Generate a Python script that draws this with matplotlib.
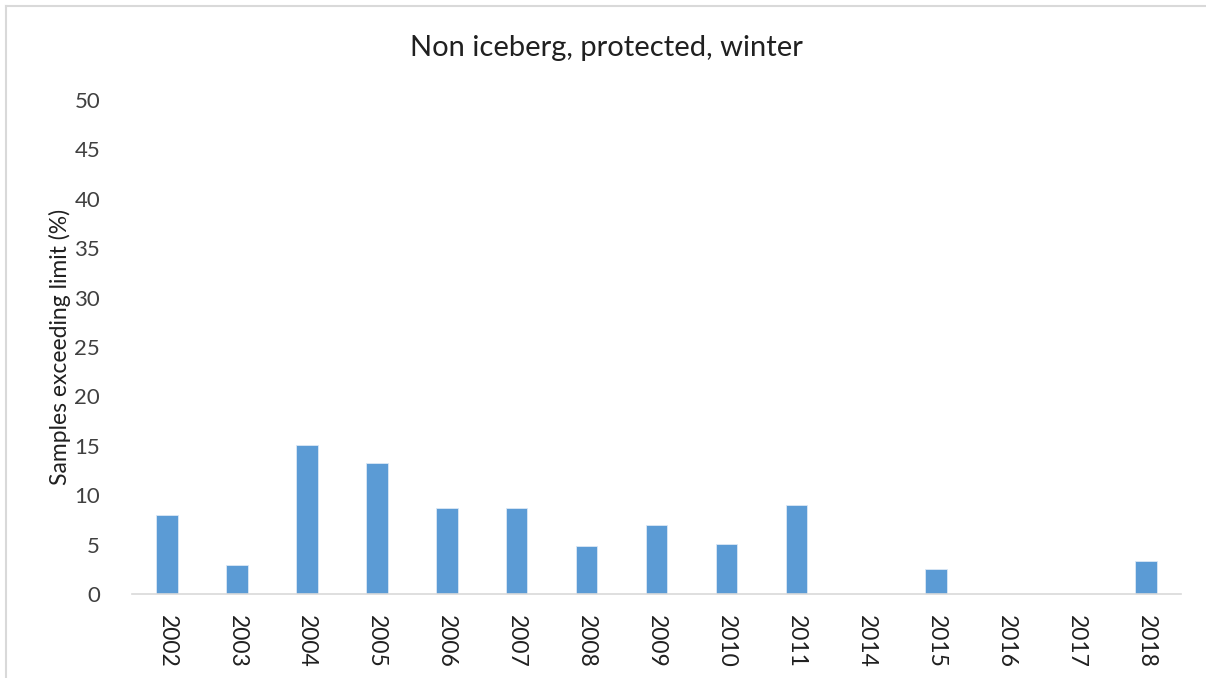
import matplotlib.pyplot as plt
from matplotlib.lines import Line2D

years = ["2002", "2003", "2004", "2005", "2006", "2007", "2008", "2009",
         "2010", "2011", "2014", "2015", "2016", "2017", "2018"]
exceeding = [8.0, 2.9, 15.1, 13.3, 8.7, 8.7, 4.9, 7.0,
             5.1, 9.0, 0, 2.5, 0, 0, 3.3]
yticks = [0, 5, 10, 15, 20, 25, 30, 35, 40, 45, 50]

plt.rcParams['font.family'] = ['Lato', 'DejaVu Sans']

fig = plt.figure(figsize=(12.06, 6.78), dpi=100)
ax = fig.add_axes([132 / 1206, 84 / 678, 1049 / 1206, 494 / 678])

x = list(range(len(years)))
ax.bar(x, exceeding, width=0.31, color="#5B9BD5", edgecolor="#dbe8f5",
       linewidth=0.6, zorder=2)

ax.set_xlim(-0.5, len(years) - 0.5)
ax.set_ylim(0, 50)
ax.set_yticks(yticks)
ax.set_yticklabels([str(t) for t in yticks], fontsize=16, color="#404040")
ax.set_xticks(x)
ax.set_xticklabels(years, rotation=270, fontsize=16.5, color="#202020")
ax.tick_params(axis="both", length=0)
ax.tick_params(axis="y", pad=23)
ax.tick_params(axis="x", pad=15)

for side in ["top", "right", "left"]:
    ax.spines[side].set_visible(False)
ax.spines["bottom"].set_color("#d9d9d9")
ax.spines["bottom"].set_linewidth(1.2)

ax.set_ylabel("Samples exceeding limit (%)", fontsize=16.5, color="#202020")
ax.yaxis.set_label_coords(-0.058, 0.5)
fig.text(0.503, 1 - 48 / 678, "Non iceberg, protected, winter",
         fontsize=21, ha="center", va="center", color="#202020")

# chart frame (only top and left edges are visible in the crop)
fig.add_artist(Line2D([6 / 1206, 6 / 1206], [0, 1 - 6 / 678],
                      color="#d9d9d9", lw=1.5))
fig.add_artist(Line2D([6 / 1206, 1], [1 - 6 / 678, 1 - 6 / 678],
                      color="#d9d9d9", lw=1.5))

fig.savefig("out.png", dpi=100)
